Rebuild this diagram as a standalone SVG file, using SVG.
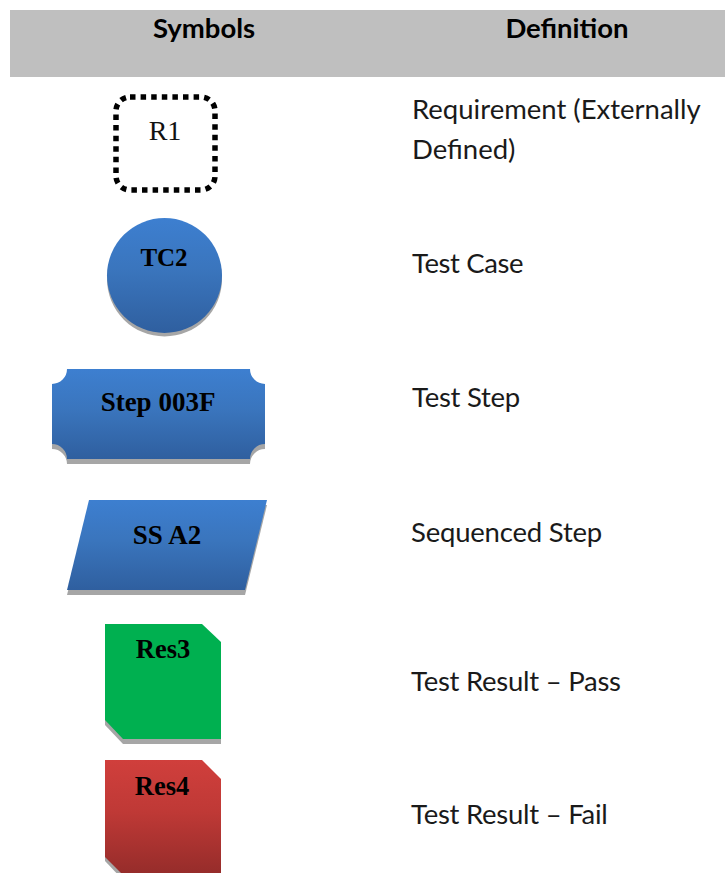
<svg xmlns="http://www.w3.org/2000/svg" width="725" height="873" viewBox="0 0 725 873">
<style>
.t{font-family:"Lato","Open Sans",sans-serif;font-size:27.5px;fill:#1a1a1a}
.h{font-family:"Lato","Open Sans",sans-serif;font-size:27.5px;font-weight:700;fill:#000;text-anchor:middle}
.l{font-family:"Liberation Serif",serif;font-size:27px;font-weight:700;fill:#000;text-anchor:middle}
.s{fill:#a6a6a6}
</style>
<defs>
<linearGradient id="b" x1="0" y1="0" x2="0" y2="1"><stop offset="0" stop-color="#3d7fd0"/><stop offset="0.45" stop-color="#3a75bd"/><stop offset="1" stop-color="#2f5f9f"/></linearGradient>
<linearGradient id="r" x1="0" y1="0" x2="0" y2="1"><stop offset="0" stop-color="#d03f3c"/><stop offset="0.45" stop-color="#bf3936"/><stop offset="1" stop-color="#952c2a"/></linearGradient>
</defs>
<rect width="725" height="873" fill="#fff"/>
<g id="header">
<rect x="10" y="10" width="715" height="67" fill="#bfbfbf"/>
<text class="h" x="204" y="38">Symbols</text>
<text class="h" x="567" y="38">Definition</text>
</g>
<g id="definitions">
<text class="t" x="412" y="119">Requirement (Externally</text>
<text class="t" x="412" y="159">Defined)</text>
<text class="t" x="412" y="273" letter-spacing="-0.4">Test Case</text>
<text class="t" x="412" y="407" letter-spacing="-0.25">Test Step</text>
<text class="t" x="411" y="542" letter-spacing="-0.2">Sequenced Step</text>
<text class="t" x="411" y="691" letter-spacing="-0.25">Test Result – Pass</text>
<text class="t" x="411" y="824" letter-spacing="-0.25">Test Result – Fail</text>
</g>
<g id="r1">
<rect x="116" y="97" width="99" height="93" rx="14" fill="#fff" stroke="#000" stroke-width="5.5" stroke-dasharray="5.5 5.1"/>
<text x="165" y="140" text-anchor="middle" font-family="Liberation Serif, serif" font-size="28" fill="#111">R1</text>
</g>
<g id="tc2">
<circle class="s" cx="164.5" cy="279" r="57.5"/>
<circle cx="164.5" cy="275.5" r="57.5" fill="url(#b)"/>
<text class="l" x="164" y="266" style="font-size:25px">TC2</text>
</g>
<g id="step">
<path class="s" d="M67 374H250A15 15 0 0 0 265 389V449A15 15 0 0 0 250 464H67A15 15 0 0 0 52 449V389A15 15 0 0 0 67 374Z"/>
<path fill="url(#b)" d="M67 369H250A15 15 0 0 0 265 384V444A15 15 0 0 0 250 459H67A15 15 0 0 0 52 444V384A15 15 0 0 0 67 369Z"/>
<text class="l" x="158" y="411">Step 003F</text>
</g>
<g id="ss">
<path class="s" d="M89 505H267L245 595H67Z"/>
<path fill="url(#b)" d="M89 500H267L245 590H67Z"/>
<text class="l" x="167" y="544">SS A2</text>
</g>
<g id="res3">
<path class="s" d="M105 628H202L221 647V744H123L105 725Z"/>
<path fill="#00b050" d="M105 624H202L221 642V739H123L105 720Z"/>
<text class="l" x="163" y="658" style="font-size:26.5px">Res3</text>
</g>
<g id="res4">
<path class="s" d="M105 765H202L221 784V880H123L105 861Z"/>
<path fill="url(#r)" d="M105 760H202L221 779V875H123L105 857Z"/>
<text class="l" x="162" y="795" style="font-size:26.5px">Res4</text>
</g>
</svg>
